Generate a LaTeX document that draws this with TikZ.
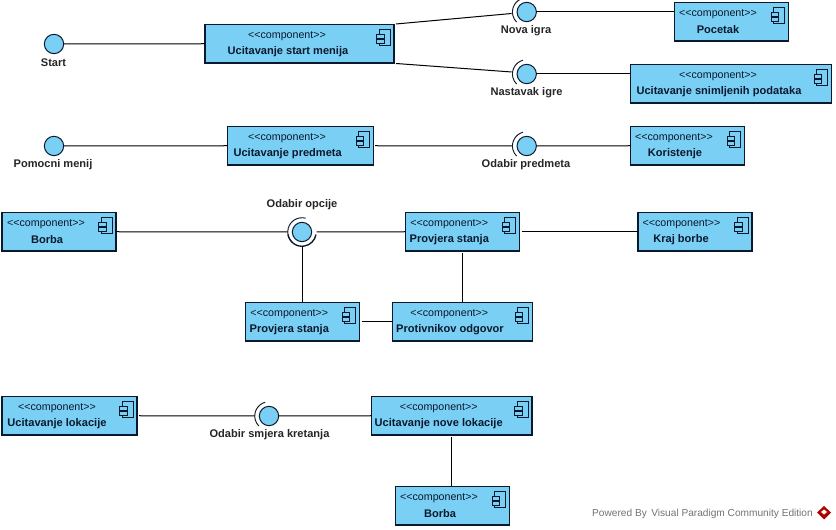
\documentclass[tikz,border=0pt]{standalone}
\usepackage{fontspec}
\setmainfont{Liberation Sans}
\usetikzlibrary{calc}
\definecolor{fillblue}{RGB}{122,207,245}
\definecolor{inkline}{RGB}{10,25,45}
\tikzset{
  x=0.75pt,y=-0.75pt,
  comp/.style={draw=inkline,fill=fillblue,line width=0.8pt,rectangle,inner sep=0pt,outer sep=0pt},
  iface/.style={circle,draw=inkline,fill=fillblue,line width=0.75pt,minimum size=14.5pt,inner sep=0pt,outer sep=0pt},
  stereo/.style={font=\fontsize{8pt}{9pt}\selectfont,text=inkline,inner sep=0pt},
  nm/.style={font=\fontsize{8.3pt}{9pt}\selectfont\bfseries,text=inkline,inner sep=0pt},
  lab/.style={font=\fontsize{8.3pt}{9pt}\selectfont\bfseries,text=black!85,inner sep=0pt},
  wire/.style={draw=black,line width=0.75pt},
  sock/.style={draw=inkline,line width=0.7pt},
  ico/.style={draw=inkline,line width=0.7pt,fill=fillblue},
}
% \compbox{name}{left}{top}{right}{bottom}{stereo x}{name x}{text}
\newcommand{\compbox}[8]{%
  \node[comp,minimum width={(#4-#2)*0.75pt},minimum height={(#5-#3)*0.75pt}] (#1) at ({(#2+#4)/2},{(#3+#5)/2}) {};
  \node[stereo] (#1s) at (#6,{#3+12}) {<{}<component>{}>};
  \node[nm] (#1n) at (#7,{#3+27.3}) {#8};
  \draw[ico] ({#4-15},{#3+5}) rectangle ({#4-4},{#3+21});
  \draw[ico] ({#4-17.3},{#3+9.8}) rectangle ({#4-10},{#3+13.8});
  \draw[ico] ({#4-17.3},{#3+14.8}) rectangle ({#4-10},{#3+18.8});
}
\begin{document}
\begin{tikzpicture}
\useasboundingbox (0,0) rectangle (836,530);
\fill[white] (0,0) rectangle (836,530);
\compbox{a}{205}{24.5}{394}{63}{287}{288}{Ucitavanje start menija}
\compbox{b}{674.3}{2.5}{788.5}{41}{718}{718}{Pocetak}
\compbox{c}{630.5}{64.5}{831.5}{103}{718}{719}{Ucitavanje snimljenih podataka}
\compbox{d}{227.5}{126.5}{373.5}{165}{287}{287.7}{Ucitavanje predmeta}
\compbox{e}{630.5}{126.5}{744.5}{165}{674}{675}{Koristenje}
\compbox{f}{2}{212.5}{116}{251}{46}{47}{Borba}
\compbox{g}{405.7}{212.5}{519.5}{251}{449.3}{449.3}{Provjera stanja}
\compbox{h}{638}{212.5}{752}{251}{681.5}{681}{Kraj borbe}
\compbox{i}{245.5}{302.5}{359.5}{341}{289.3}{289.3}{Provjera stanja}
\compbox{j}{392.5}{302.5}{532.5}{341}{449.3}{450}{Protivnikov odgovor}
\compbox{k}{2}{396.5}{137}{435}{57}{57}{Ucitavanje lokacije}
\compbox{l}{371.5}{396.5}{532}{435}{438.7}{438.7}{Ucitavanje nove lokacije}
\compbox{m}{395.5}{486.5}{509.5}{525}{439}{440}{Borba}
\node[iface] (i1) at (54,44) {};
\node[iface] (i2) at (54,146) {};
\node[iface] (i3) at (526.7,12) {};
\node[iface] (i4) at (526.7,74) {};
\node[iface] (i5) at (526.7,146) {};
\node[iface] (i6) at (302,232) {};
\node[iface] (i7) at (269,416) {};
\node[lab] (t1) at (53.5,63) {Start};
\node[lab] (t2) at (53,165) {Pomocni menij};
\node[lab] (t3) at (526,31) {Nova igra};
\node[lab] (t4) at (526.5,93) {Nastavak igre};
\node[lab] (t5) at (526,165) {Odabir predmeta};
\node[lab] (t6) at (302,205) {Odabir opcije};
\node[lab] (t7) at (269.5,435) {Odabir smjera kretanja};
\foreach \p in {i3,i4,i5,i7} {\draw[sock] ($(\p)+(105:10.7pt)$) arc[start angle=105,end angle=225,radius=10.7pt];}
\draw[sock] ($(i6)+(75:10.7pt)$) arc[start angle=75,end angle=225,radius=10.7pt];
\draw[sock,line width=1pt] ($(i6)+(190:10.7pt)$) arc[start angle=190,end angle=350,radius=10.7pt];
\draw[wire] (i1) -- (a.west);
\draw[wire] ([shift={(2,-0.5)}]a.north east) -- ($(i3)+(-15,1.5)$);
\draw[wire] ([shift={(2,0.5)}]a.south east) -- ($(i4)+(-15,-2)$);
\draw[wire] (i3) -- (b.west |- i3);
\draw[wire] (i4) -- (c.west |- i4);
\draw[wire] (i2) -- (d.west);
\draw[wire] (d.east) ++(1.5,0) -- ($(i5)+(-14.5,0)$);
\draw[wire] (i5) -- (e.west);
\draw[wire] (f.east) -- ($(i6)+(-14.5,0)$);
\draw[wire] ($(i6)+(14.5,0)$) -- (g.west);
\draw[wire] (g.east) ++(2,0) -- (h.west);
\draw[wire] ($(i6)+(0,14.5)$) -- (i.north -| i6);
\draw[wire] (g.south -| j.north) ++(0,2) -- (j.north);
\draw[wire] (i.east) ++(2,0) -- (j.west);
\draw[wire] (k.east) ++(2,0) -- ($(i7)+(-14.5,0)$);
\draw[wire] (i7) -- (l.west);
\draw[wire] (l.south) ++(0,2) -- (m.north -| l.south);
\node[inner sep=0pt,font=\fontsize{7.6pt}{9pt}\selectfont,text=black!55] (wm) at (702.5,514) {Powered By \,Visual Paradigm Community Edition};
\fill[red!70!black] (824,506) -- (831,512.5) -- (824,519.5) -- (817,512.5) -- cycle;
\fill[white] (824,509.5) -- (827,512) -- (824,514.5) -- (821,512) -- cycle;
\end{tikzpicture}
\end{document}
